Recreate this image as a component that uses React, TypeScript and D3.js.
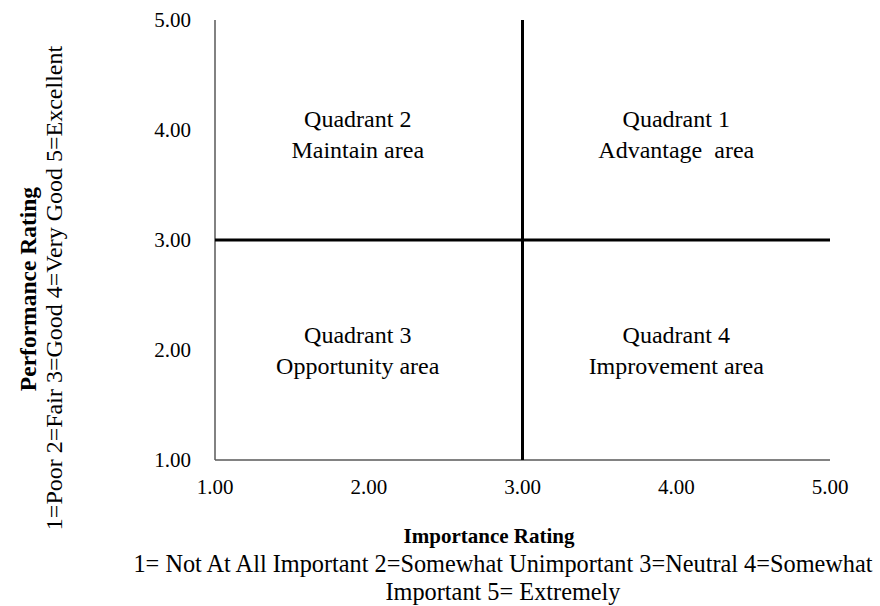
import React from "react";
import * as d3 from "d3";

const xTicks = [1, 2, 3, 4, 5];
const yTicks = [1, 2, 3, 4, 5];
const dividerX = 3;
const dividerY = 3;
const quadrants = [
  { name: "Quadrant 1", area: "Advantage  area", x: 4, y: 4 },
  { name: "Quadrant 2", area: "Maintain area", x: 2, y: 4 },
  { name: "Quadrant 3", area: "Opportunity area", x: 2, y: 2 },
  { name: "Quadrant 4", area: "Improvement area", x: 4, y: 2 },
];
const xTitle = "Importance Rating";
const xSubtitle = [
  "1= Not At All Important 2=Somewhat Unimportant 3=Neutral 4=Somewhat",
  "Important 5= Extremely",
];
const yTitle = "Performance Rating";
const ySubtitle = "1=Poor 2=Fair 3=Good 4=Very Good 5=Excellent";

export default function App() {
  const W = 880, H = 606;
  const x = d3.scaleLinear().domain([1, 5]).range([215, 830]);
  const y = d3.scaleLinear().domain([1, 5]).range([460, 20]);
  const font = "'Liberation Serif', 'Times New Roman', Times, serif";
  const fmt = d3.format(".2f");
  return (
    <svg width={W} height={H} style={{ position: "absolute", left: 0, top: 0, background: "#fff" }} fontFamily={font}>
      {/* axes */}
      <line x1={x(1)} x2={x(1)} y1={y(5)} y2={y(1)} stroke="#595959" strokeWidth={1.5} />
      <line x1={x(1)} x2={x(5)} y1={y(1)} y2={y(1)} stroke="#595959" strokeWidth={1.5} />
      {/* dividers */}
      <line x1={x(dividerX)} x2={x(dividerX)} y1={y(5)} y2={y(1)} stroke="#000" strokeWidth={3} />
      <line x1={x(1)} x2={x(5)} y1={y(dividerY)} y2={y(dividerY)} stroke="#000" strokeWidth={3} />
      {yTicks.map((t) => (
        <text key={"y" + t} x={191} y={y(t)} dy="0.35em" textAnchor="end" fontSize={21} fill="#000">{fmt(t)}</text>
      ))}
      {xTicks.map((t) => (
        <text key={"x" + t} x={x(t)} y={494} textAnchor="middle" fontSize={21} fill="#000">{fmt(t)}</text>
      ))}
      {quadrants.map((q) => {
        const cx = x(q.x) + (q.x < dividerX ? -11 : 0);
        const cy = y(q.y) + (q.y < dividerY ? -4 : 0);
        return (
          <g key={q.name}>
            <text x={cx} y={cy - 3} textAnchor="middle" fontSize={24} fill="#000" style={{ whiteSpace: "pre" }}>{q.name}</text>
            <text x={cx} y={cy + 28} textAnchor="middle" fontSize={24} fill="#000" style={{ whiteSpace: "pre" }}>{q.area}</text>
          </g>
        );
      })}
      <text x={489} y={543} textAnchor="middle" fontSize={21} fontWeight="bold" fill="#000">{xTitle}</text>
      {xSubtitle.map((s, i) => (
        <text key={i} x={503} y={572 + i * 28} textAnchor="middle" fontSize={24.3} fill="#000">{s}</text>
      ))}
      <text transform={`translate(36,289) rotate(-90)`} textAnchor="middle" fontSize={23.5} fontWeight="bold" fill="#000">{yTitle}</text>
      <text transform={`translate(62,288) rotate(-90)`} textAnchor="middle" fontSize={24} fill="#000">{ySubtitle}</text>
    </svg>
  );
}
